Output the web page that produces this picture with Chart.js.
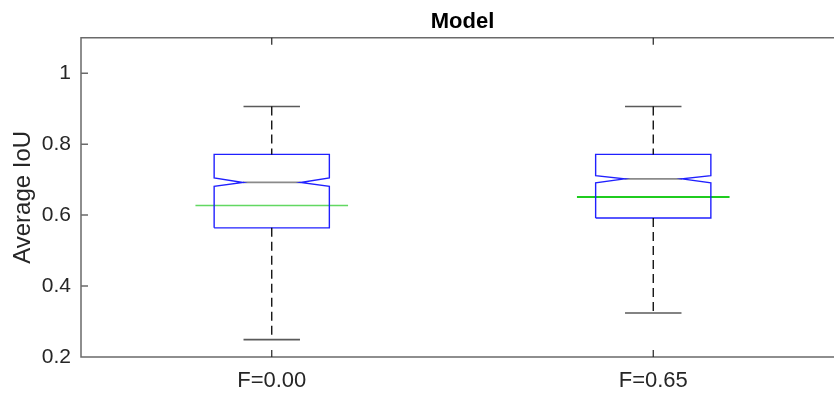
<!DOCTYPE html>
<html>
<head>
<meta charset="utf-8">
<title>Model</title>
<script src="https://cdn.jsdelivr.net/npm/chart.js@4"></script>
<style>
  html, body { margin: 0; padding: 0; background: #fff; overflow: hidden; }
</style>
</head>
<body>
<canvas id="chartModel" width="860" height="395"></canvas>
<script>
/* --- data ---------------------------------------------------------------- */
const categories  = ['F=0.00', 'F=0.65'];
const whiskerLow  = [0.249, 0.324];
const q1          = [0.564, 0.592];
const notchLow    = [0.681, 0.691];
const median      = [0.692, 0.702];
const notchHigh   = [0.705, 0.711];
const q3          = [0.771, 0.771];
const whiskerHigh = [0.906, 0.906];
const meanValue   = [0.627, 0.651];
const yTicks      = [0.2, 0.4, 0.6, 0.8, 1];

/* --- styles -------------------------------------------------------------- */
const FONT = '"Liberation Sans", Arial, Helvetica, sans-serif';
const TEXT = '#262626';
const AXIS = '#6a6a6a';
const boxHalf = 0.151, notchHalf = 0.0755, capHalf = 0.074, meanHalf = 0.2;
const meanColors = ['#62d862', '#1fcc1f'];
const meanWidths = [1.5, 2.2];

function seg(data, color, width, dash) {
    return {
        data,
        showLine: true,
        borderColor: color,
        borderWidth: width,
        borderDash: dash || [],
        pointRadius: 0,
        fill: false
    };
}

/* builds the notched box outline from the quartile values */
function notchBox(i) {
    const x = i + 1;
    return [
        { x: x - boxHalf, y: q1[i] },
        { x: x + boxHalf, y: q1[i] },
        { x: x + boxHalf, y: notchLow[i] },
        { x: x + notchHalf, y: median[i] },
        { x: x + boxHalf, y: notchHigh[i] },
        { x: x + boxHalf, y: q3[i] },
        { x: x - boxHalf, y: q3[i] },
        { x: x - boxHalf, y: notchHigh[i] },
        { x: x - notchHalf, y: median[i] },
        { x: x - boxHalf, y: notchLow[i] },
        { x: x - boxHalf, y: q1[i] }
    ];
}

const datasets = [];
categories.forEach((c, i) => {
    const x = i + 1;
    // whiskers
    datasets.push(seg([{ x, y: whiskerHigh[i] }, { x, y: q3[i] }], '#000', 1.3, [9, 5]));
    datasets.push(seg([{ x, y: q1[i] }, { x, y: whiskerLow[i] }], '#000', 1.3, [9, 5]));
    // caps
    datasets.push(seg([{ x: x - capHalf, y: whiskerHigh[i] }, { x: x + capHalf, y: whiskerHigh[i] }], '#5a5a5a', 1.6));
    datasets.push(seg([{ x: x - capHalf, y: whiskerLow[i] }, { x: x + capHalf, y: whiskerLow[i] }], '#5a5a5a', 1.6));
    // box + median
    datasets.push(seg(notchBox(i), '#2020ff', 1.4));
    datasets.push(seg([{ x: x - notchHalf, y: median[i] }, { x: x + notchHalf, y: median[i] }], '#8a8a8a', 1.8));
    // mean line
    datasets.push(seg([{ x: x - meanHalf, y: meanValue[i] }, { x: x + meanHalf, y: meanValue[i] }], meanColors[i], meanWidths[i]));
});

/* frame with inward ticks, matlab style */
const framePlugin = {
    id: 'frame',
    afterDatasetsDraw(chart) {
        const { ctx, chartArea: a, scales: { x, y } } = chart;
        ctx.save();
        ctx.strokeStyle = AXIS;
        ctx.lineWidth = 1.5;
        ctx.beginPath();
        ctx.moveTo(a.right, a.top);
        ctx.lineTo(a.left, a.top);
        ctx.lineTo(a.left, a.bottom);
        ctx.lineTo(a.right, a.bottom);
        y.ticks.forEach(t => {
            const p = y.getPixelForValue(t.value);
            ctx.moveTo(a.left, p);
            ctx.lineTo(a.left + 7, p);
        });
        ctx.stroke();
        ctx.strokeStyle = '#222';
        ctx.lineWidth = 1.2;
        ctx.beginPath();
        x.ticks.forEach(t => {
            const p = x.getPixelForValue(t.value);
            ctx.moveTo(p, a.bottom);
            ctx.lineTo(p, a.bottom - 7);
            ctx.moveTo(p, a.top);
            ctx.lineTo(p, a.top + 7);
        });
        ctx.stroke();
        ctx.restore();
    }
};

new Chart(document.getElementById('chartModel'), {
    type: 'scatter',
    data: { datasets },
    options: {
        responsive: false,
        animation: false,
        events: [],
        layout: { padding: { left: 0, right: 16, top: 0, bottom: 0 } },
        plugins: {
            legend: { display: false },
            tooltip: { enabled: false },
            title: {
                display: true,
                text: 'Model',
                fullSize: false,
                color: '#000',
                font: { family: FONT, size: 22, weight: 'bold' },
                padding: { top: 9, bottom: 2.3 }
            }
        },
        scales: {
            x: {
                type: 'linear',
                min: 0.5,
                max: 2.5,
                grid: { display: false, drawTicks: false },
                border: { display: false },
                afterBuildTicks: s => { s.ticks = categories.map((c, i) => ({ value: i + 1 })); },
                afterFit: s => { s.height = 38; },
                ticks: {
                    padding: 11,
                    color: TEXT,
                    maxRotation: 0,
                    autoSkip: false,
                    font: { family: FONT, size: 22 },
                    callback: v => categories[v - 1]
                }
            },
            y: {
                min: 0.2,
                max: 1.1,
                grid: { display: false, drawTicks: false },
                border: { display: false },
                afterBuildTicks: s => { s.ticks = yTicks.map(v => ({ value: v })); },
                afterFit: s => { s.width = 81; },
                ticks: {
                    padding: 10,
                    color: TEXT,
                    font: { family: FONT, size: 21 },
                    callback: v => String(v)
                },
                title: {
                    display: true,
                    text: 'Average IoU',
                    color: TEXT,
                    font: { family: FONT, size: 24 },
                    padding: { top: 9, bottom: 0 }
                }
            }
        }
    },
    plugins: [framePlugin]
});
</script>
</body>
</html>
